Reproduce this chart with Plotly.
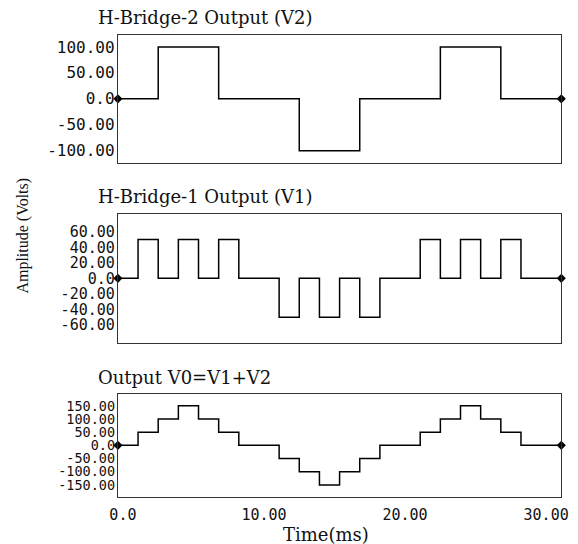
import plotly.graph_objects as go

# Cascaded H-bridge inverter: one 50 Hz cycle = 14 switching intervals
step_ms = 20.0 / 14

# Output level of each H-bridge during every switching interval (Volts)
v1_levels = [0, 50, 0, 50, 0, 50, 0, 0, -50, 0, -50, 0, -50, 0, 0, 50, 0, 50, 0, 50, 0, 0]
v2_levels = [0, 0, 100, 100, 100, 0, 0, 0, 0, -100, -100, -100, 0, 0, 0, 0, 100, 100, 100, 0, 0, 0]
v0_levels = [a + b for a, b in zip(v1_levels, v2_levels)]  # V0 = V1 + V2

time_edges = [i * step_ms for i in range(len(v1_levels) + 1)]

x_tick_vals = [0, 10, 20, 30]
x_tick_text = ["0.0", "10.00", "20.00", "30.00"]

panels = [
    dict(title="H-Bridge-2 Output (V2)", levels=v2_levels,
         tickvals=[100, 50, 0, -50, -100],
         ticktext=["100.00", "50.00", "0.0", "-50.00", "-100.00"],
         yrange=[-123, 123], domain=[0.7009, 0.9357], title_y=18, tick_size=16),
    dict(title="H-Bridge-1 Output (V1)", levels=v1_levels,
         tickvals=[60, 40, 20, 0, -20, -40, -60],
         ticktext=["60.00", "40.00", "20.00", "0.0", "-20.00", "-40.00", "-60.00"],
         yrange=[-83, 83], domain=[0.3700, 0.6066], title_y=197, tick_size=15),
    dict(title="Output V0=V1+V2", levels=v0_levels,
         tickvals=[150, 100, 50, 0, -50, -100, -150],
         ticktext=["150.00", "100.00", "50.00", "0.0", "-50.00", "-100.00", "-150.00"],
         yrange=[-195, 195], domain=[0.0869, 0.2757], title_y=377, tick_size=13.5),
]

W, H = 578, 544
x_domain = [112 / W, 568 / W]
mono = "DejaVu Sans Mono"
serif_font = dict(family="DejaVu Serif", size=18, color="#111111")

fig = go.Figure()
annotations = []

for i, p in enumerate(panels, start=1):
    xa = "x" if i == 1 else f"x{i}"
    ya = "y" if i == 1 else f"y{i}"
    y_step = p["levels"] + [p["levels"][-1]]
    fig.add_trace(go.Scatter(
        x=time_edges, y=y_step, mode="lines", line_shape="hv",
        line=dict(color="black", width=1.5), xaxis=xa, yaxis=ya,
        hoverinfo="skip", cliponaxis=False,
    ))
    # solid dots at the first and last sample of the waveform
    fig.add_trace(go.Scatter(
        x=[time_edges[0], time_edges[-1]], y=[y_step[0], y_step[-1]],
        mode="markers", marker=dict(symbol="diamond", size=7, color="black"),
        xaxis=xa, yaxis=ya, hoverinfo="skip", cliponaxis=False,
    ))

    last = i == len(panels)
    fig.update_layout(**{
        ("xaxis" if i == 1 else f"xaxis{i}"): dict(
            domain=x_domain, anchor=ya, range=[0, time_edges[-1]],
            showgrid=False, zeroline=False, showline=True, mirror=True,
            linecolor="#333333", linewidth=1.2, ticks="",
            showticklabels=last,
            tickvals=x_tick_vals, ticktext=x_tick_text,
            tickfont=dict(family=mono, size=15, color="#111111"),
            ticklabelshift=5, ticklabelstandoff=4,
            ticklabeloverflow="allow",
        ),
        ("yaxis" if i == 1 else f"yaxis{i}"): dict(
            domain=p["domain"], anchor=xa, range=p["yrange"],
            showgrid=False, zeroline=False, showline=True, mirror=True,
            linecolor="#333333", linewidth=1.2, ticks="",
            tickvals=p["tickvals"], ticktext=p["ticktext"],
            tickfont=dict(family=mono, size=p["tick_size"], color="#111111"),
            ticklabelstandoff=-1,
        ),
    })
    annotations.append(dict(
        text=p["title"], xref="paper", yref="paper",
        x=89 / W, y=1 - p["title_y"] / H, xanchor="left", yanchor="middle",
        showarrow=False, font=serif_font,
    ))

annotations.append(dict(
    text="Time(ms)", xref="paper", yref="paper",
    x=326 / W, y=1 - 534 / H, xanchor="center", yanchor="middle",
    showarrow=False, font=serif_font,
))
annotations.append(dict(
    text="Amplitude (Volts)", xref="paper", yref="paper",
    x=14 / W, y=1 - 236 / H, xanchor="center", yanchor="middle",
    textangle=-90, showarrow=False,
    font=dict(family="Liberation Serif", size=16, color="#111111"),
))

fig.update_layout(
    width=W, height=H, margin=dict(l=0, r=0, t=0, b=0),
    paper_bgcolor="white", plot_bgcolor="white", showlegend=False,
    annotations=annotations,
)

fig.write_html("out.html")
